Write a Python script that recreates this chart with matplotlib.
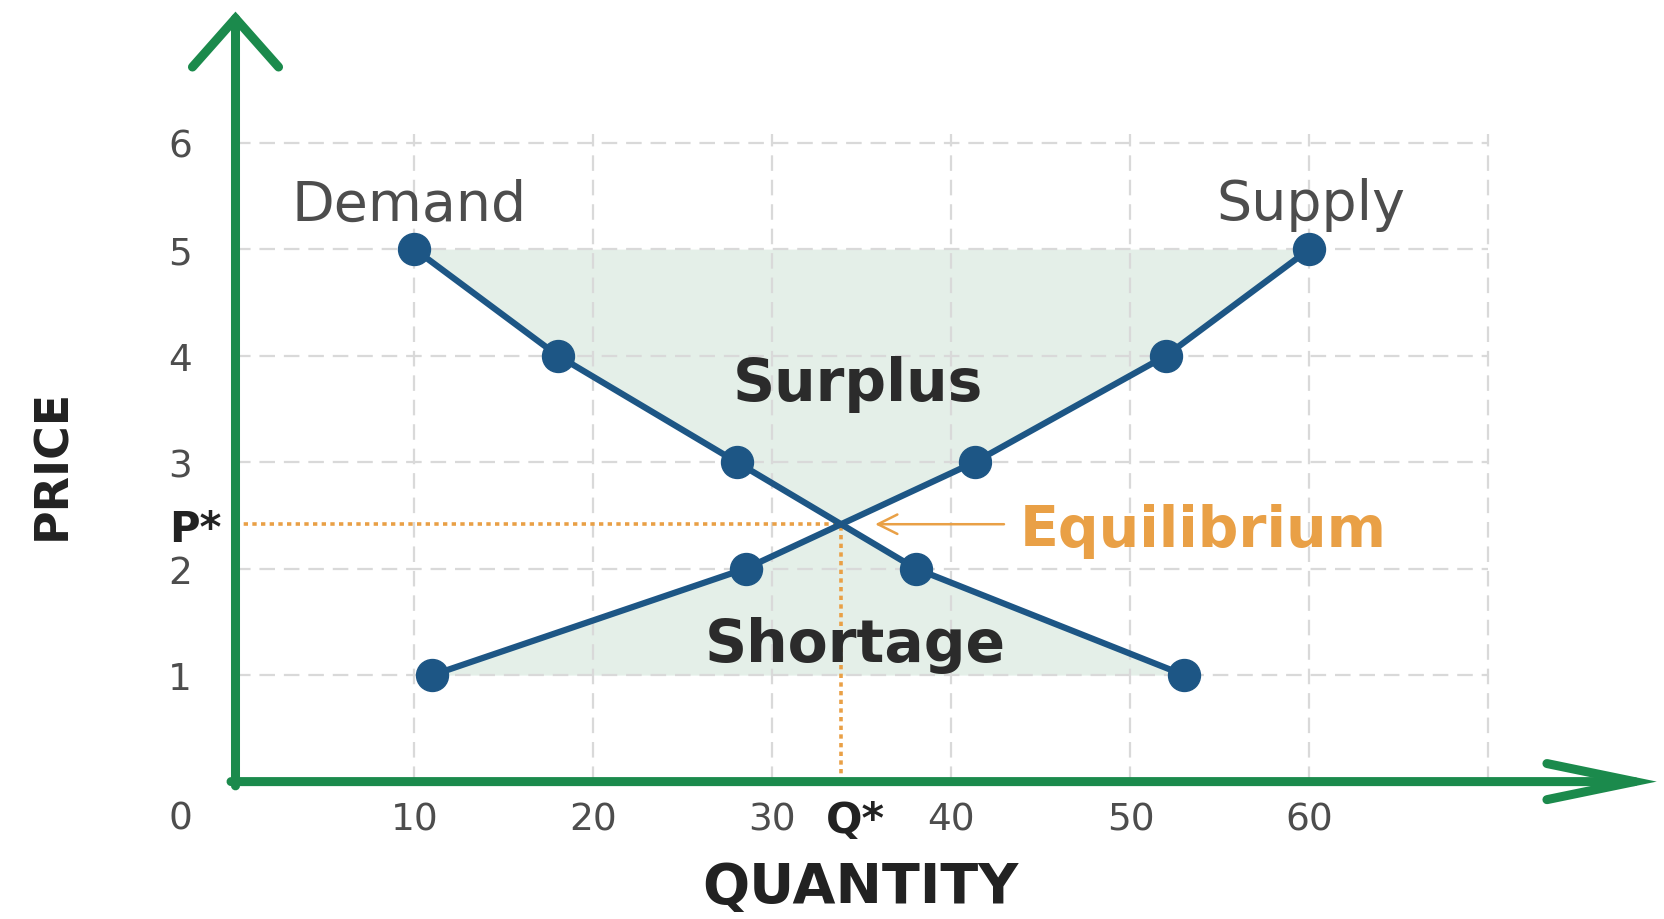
import numpy as np
import matplotlib
matplotlib.use("Agg")
import matplotlib.pyplot as plt
from matplotlib.patches import ArrowStyle

# ---- data -------------------------------------------------------------
price_levels = [1, 2, 3, 4, 5]
demand_qty = [53, 38, 28, 18, 10]      # quantity demanded at each price
supply_qty = [11, 28.5, 41.3, 52, 60]  # quantity supplied at each price

x_tick_values = [10, 20, 30, 40, 50, 60]
y_tick_values = [1, 2, 3, 4, 5, 6]
grid_x = [10, 20, 30, 40, 50, 60, 70]
grid_y = [1, 2, 3, 4, 5, 6]

# ---- equilibrium: where the two curves cross ---------------------------
ys = np.linspace(min(price_levels), max(price_levels), 40001)
d_of_y = np.interp(ys, price_levels, demand_qty)
s_of_y = np.interp(ys, price_levels, supply_qty)
i_eq = int(np.argmin(np.abs(d_of_y - s_of_y)))
eq_p = ys[i_eq]
eq_q = d_of_y[i_eq]

# ---- styling ------------------------------------------------------------
GREEN = "#1b8a4c"
BLUE = "#1d5685"
ORANGE = "#e9a046"
FILL = "#e4efe8"
GRID = "#d9d9d9"
TEXT = "#4d4d4d"
DARK = "#222222"

W, H = 1665, 920
fig = plt.figure(figsize=(W / 100, H / 100), dpi=100)
fig.patch.set_facecolor("white")

px_x = 17.9      # pixels per quantity unit
px_y = 106.5     # pixels per price unit
x0_px = 235.5    # origin, pixels from left
y0_px = 782.6    # origin, pixels from top
xmax, ymax = 70.5, 6.08
ax = fig.add_axes([x0_px / W, (H - y0_px) / H,
                   xmax * px_x / W, ymax * px_y / H])
ax.set_xlim(0, xmax)
ax.set_ylim(0, ymax)
for sp in ax.spines.values():
    sp.set_visible(False)
ax.set_facecolor("none")

# dashed grid
for gx in grid_x:
    ax.plot([gx, gx], [0, ymax], color=GRID, lw=1.6,
            ls=(0, (7, 4)), zorder=1)
for gy in grid_y:
    ax.plot([0, grid_x[-1]], [gy, gy], color=GRID, lw=1.6,
            ls=(0, (7, 4)), zorder=1)

# surplus and shortage regions between the curves
y_up = ys[ys >= eq_p]
ax.fill_betweenx(y_up, np.interp(y_up, price_levels, demand_qty),
                 np.interp(y_up, price_levels, supply_qty),
                 color=FILL, lw=0, zorder=0.5)
y_dn = ys[ys <= eq_p]
ax.fill_betweenx(y_dn, np.interp(y_dn, price_levels, supply_qty),
                 np.interp(y_dn, price_levels, demand_qty),
                 color=FILL, lw=0, zorder=0.5)

# equilibrium guide lines
ax.plot([0, eq_q], [eq_p, eq_p], color=ORANGE, lw=2.6,
        ls=(0, (1.2, 1.2)), zorder=2)
ax.plot([eq_q, eq_q], [0, eq_p], color=ORANGE, lw=2.6,
        ls=(0, (1.2, 1.2)), zorder=2)

# demand and supply curves
ax.plot(demand_qty, price_levels, color=BLUE, lw=4.5, marker="o",
        ms=23, zorder=4, solid_capstyle="round")
ax.plot(supply_qty, price_levels, color=BLUE, lw=4.5, marker="o",
        ms=23, zorder=4, solid_capstyle="round")

# axes drawn as green arrows
ax.annotate("", xy=(0, 7.23), xytext=(0, -0.04), annotation_clip=False,
            arrowprops=dict(arrowstyle=ArrowStyle("->", head_length=35, head_width=31),
                            mutation_scale=1, lw=6.5, color=GREEN,
                            shrinkA=0, shrinkB=0, joinstyle="miter"),
            zorder=5)
ax.annotate("", xy=(79.4, 0), xytext=(-0.25, 0), annotation_clip=False,
            arrowprops=dict(arrowstyle=ArrowStyle("->", head_length=63, head_width=13),
                            mutation_scale=1, lw=6.5, color=GREEN,
                            shrinkA=0, shrinkB=0, joinstyle="miter"),
            zorder=5)

# tick labels
ax.tick_params(length=0)
ax.set_xticks(x_tick_values, [str(v) for v in x_tick_values],
              fontsize=27, color=TEXT, family="DejaVu Sans")
ax.tick_params(axis="x", pad=14)
ax.set_yticks(y_tick_values, [str(v) for v in y_tick_values],
              fontsize=27, color=TEXT, family="DejaVu Sans", ha="center")
ax.tick_params(axis="y", pad=40)
ax.text(-3.1, -0.35, "0", fontsize=27, color=TEXT, ha="center",
        va="center", clip_on=False)

# equilibrium price and quantity markers on the axes
ax.text(-2.25, eq_p, "P*", fontsize=30, color=DARK, fontweight="bold",
        ha="center", va="center_baseline", clip_on=False)
ax.text(eq_q + 0.8, -0.36, "Q*", fontsize=31, color=DARK, fontweight="bold",
        ha="center", va="center", clip_on=False)

# curve names and region labels
ax.text(9.7, 5.42, "Demand", fontsize=40, color=TEXT, ha="center", va="center")
ax.text(60.1, 5.42, "Supply", fontsize=40, color=TEXT, ha="center", va="center")
ax.text(34.8, 3.74, "Surplus", fontsize=42, color="#2b2b2b",
        fontweight="bold", ha="center", va="center", zorder=6)
ax.text(34.65, 1.29, "Shortage", fontsize=42, color="#2b2b2b",
        fontweight="bold", ha="center", va="center", zorder=6)

# equilibrium marker label
ax.annotate("", xy=(eq_q + 1.9, eq_p), xytext=(eq_q + 9.1, eq_p),
            arrowprops=dict(arrowstyle=ArrowStyle("->", head_length=14, head_width=7),
                            mutation_scale=1, lw=1.8, color=ORANGE,
                            shrinkA=0, shrinkB=0))
ax.text(eq_q + 10.0, eq_p, "Equilibrium", fontsize=41, color=ORANGE,
        fontweight="bold", ha="left", va="center_baseline")

# axis titles
ax.text(-10.2, 2.99, "PRICE", rotation=90, fontsize=33, fontweight="bold",
        color=DARK, ha="center", va="center", clip_on=False,
        family="DejaVu Sans")
ax.text(34.9, -1.13, "QUANTITY", fontsize=40, fontweight="bold",
        color=DARK, ha="center", va="baseline", clip_on=False)

fig.savefig("out.png", dpi=100, facecolor="white")
